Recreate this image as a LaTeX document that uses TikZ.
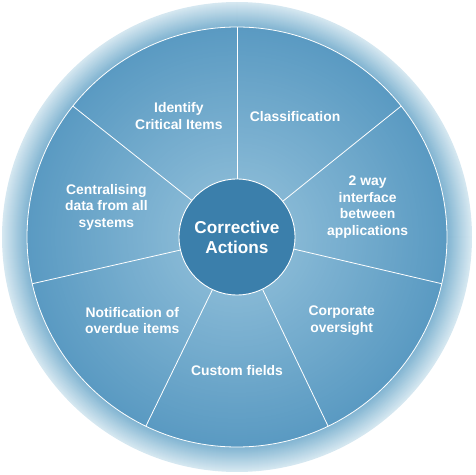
\documentclass[tikz,border=0pt]{standalone}
\usepackage{fontspec}
\setmainfont{Liberation Sans}
\definecolor{segin}{HTML}{86B8D5}
\definecolor{segout}{HTML}{5A9AC2}
\definecolor{ringin}{HTML}{82B5D2}
\definecolor{ringout}{HTML}{D6E8F1}
\definecolor{hubfill}{HTML}{3B7FAB}
\tikzset{
  divider/.style={draw=white, line width=0.8pt},
  label/.style={text=white, align=center, font=\bfseries\fontsize{13.9}{16.6}\selectfont, inner sep=0pt},
  hub/.style={circle, minimum size=116pt, inner sep=0pt, fill=hubfill, draw=white, line width=0.9pt, text=white, align=center, font=\bfseries\fontsize{17.2}{20}\selectfont}
}
\begin{document}
\begin{tikzpicture}[x=1pt,y=1pt]
\useasboundingbox (0,0) rectangle (475,475);
\coordinate (c) at (237,238);
% outer ring: light at the rim, darker inside
\foreach \r in {235,234,...,211}{
  \pgfmathsetmacro\t{(235-\r)/24*100}
  \fill[ringin!\t!ringout] (c) circle[radius=\r pt];
}
% segments: darker at the rim, lighter toward the hub
\foreach \r in {210,208,...,58}{
  \pgfmathsetmacro\t{(210-\r)/152*100}
  \fill[segin!\t!segout] (c) circle[radius=\r pt];
}
\draw[divider] (c) circle[radius=210pt];
\node[hub] (ctr) at (c) {Corrective\\Actions};
\foreach \i/\a in {1/90,2/38.571,3/-12.857,4/-64.286,5/-115.714,6/-167.143,7/141.429}{
  \path (c) ++(\a:210pt) coordinate (e\i);
  \draw[divider] (ctr.\a) -- (e\i);
}
\path (c) ++(115.71:134pt) node[label] (l1) {Identify\\Critical Items};
\path (c) ++(64.29:134pt) node[label] (l2) {Classification};
\path (c) ++(12.86:134pt) node[label] (l3) {2 way\\interface\\between\\applications};
\path (c) ++(-38.57:134pt) node[label] (l4) {Corporate\\oversight};
\path (c) ++(-90:134pt) node[label] (l5) {Custom fields};
\path (c) ++(-141.43:134pt) node[label] (l6) {Notification of\\overdue items};
\path (c) ++(167.14:134pt) node[label] (l7) {Centralising\\data from all\\systems};
\end{tikzpicture}
\end{document}
